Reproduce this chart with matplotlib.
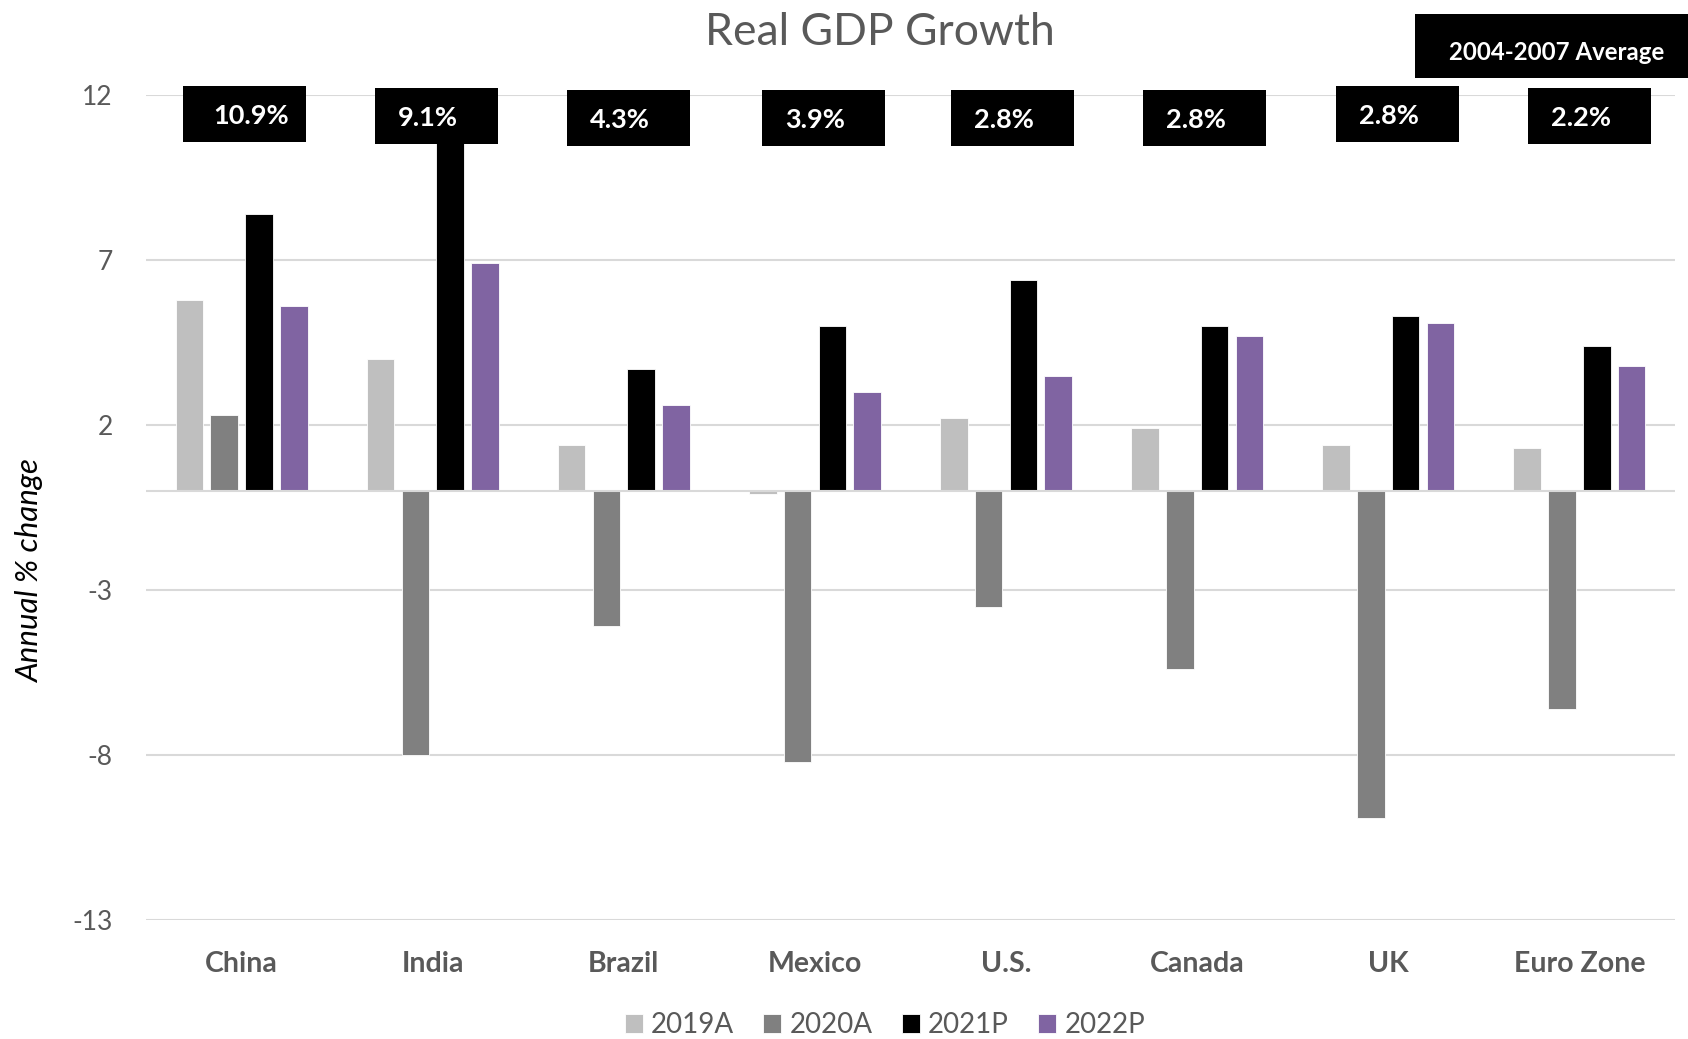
import matplotlib
matplotlib.use("Agg")
import matplotlib.pyplot as plt
import matplotlib.transforms as mtransforms
from matplotlib.patches import Rectangle
import numpy as np

# ---- data ----
countries = ["China", "India", "Brazil", "Mexico", "U.S.", "Canada", "UK", "Euro Zone"]
series_names = ["2019A", "2020A", "2021P", "2022P"]
v2019 = [5.8, 4.0, 1.4, -0.1, 2.2, 1.9, 1.4, 1.3]
v2020 = [2.3, -8.0, -4.1, -8.2, -3.5, -5.4, -9.9, -6.6]
v2021 = [8.4, 12.5, 3.7, 5.0, 6.4, 5.0, 5.3, 4.4]
v2022 = [5.6, 6.9, 2.6, 3.0, 3.5, 4.7, 5.1, 3.8]
avg_labels = ["10.9%", "9.1%", "4.3%", "3.9%", "2.8%", "2.8%", "2.8%", "2.2%"]
yticks = [12, 7, 2, -3, -8, -13]

colors = ["#BFBFBF", "#808080", "#000000", "#8064A2"]
TXT = "#595959"
FONT = "Lato"
plt.rcParams["font.family"] = [FONT, "DejaVu Sans"]

W, H = 1688, 1039
fig = plt.figure(figsize=(W / 100, H / 100), dpi=100)
ax = fig.add_axes([146 / W, 1 - 920 / H, (1675 - 146) / W, (920 - 95) / H])

x = np.arange(len(countries))
pitch = 0.182
bw = 0.144
all_vals = [v2019, v2020, v2021, v2022]
for i, (name, vals, c) in enumerate(zip(series_names, all_vals, colors)):
    ax.bar(x + (i - 1.5) * pitch, vals, width=bw, color=c, label=name, zorder=3,
           edgecolor="white", linewidth=0.6)

ax.set_xlim(-0.5, len(countries) - 0.5)
ax.set_ylim(-13, 12)
ax.set_yticks(yticks)
ax.set_yticklabels([str(t) for t in yticks])
ax.grid(axis="y", color="#D9D9D9", linewidth=1.5, zorder=0)
ax.axhline(0, color="#D9D9D9", linewidth=1.5, zorder=4)
for s in ax.spines.values():
    s.set_visible(False)
ax.set_xticks(x)
ax.set_xticklabels(countries, fontsize=20.5, fontweight="bold", color=TXT)
ax.tick_params(axis="x", length=0, pad=22)
ax.tick_params(axis="y", length=0, pad=24, labelsize=19, labelcolor=TXT)

# ---- average boxes ----
box_dx_px = [3, 3.5, 4.5, 9, 6.5, 7, 9, 10]
box_top_px = [86, 88, 90, 90, 90, 90, 86, 88]
text_pad_px = [30, 23, 23, 23, 23, 23, 23, 23]
box_w_px, box_h_px = 123, 56
slot_px = (1675 - 146) / len(countries)
trans = mtransforms.blended_transform_factory(ax.transData, fig.transFigure)
for i, lab in enumerate(avg_labels):
    cx = x[i] + box_dx_px[i] / slot_px
    bwid = box_w_px / slot_px
    left = cx - bwid / 2
    y0 = 1 - (box_top_px[i] + box_h_px) / H
    rect = Rectangle((left, y0), bwid, box_h_px / H, transform=trans,
                     facecolor="black", edgecolor="none", clip_on=False, zorder=6)
    fig.add_artist(rect)
    tt = mtransforms.offset_copy(trans, fig=fig, x=text_pad_px[i], y=-2, units="dots")
    fig.text(left, 1 - (box_top_px[i] + box_h_px / 2) / H, lab, transform=tt,
             color="white", fontsize=19.5, fontweight="bold", ha="left", va="center",
             zorder=7)

# header box
fig.add_artist(Rectangle((1415 / W, 1 - 78 / H), (1690 - 1415) / W, 64 / H,
                         transform=fig.transFigure, facecolor="black",
                         edgecolor="none", zorder=6))
fig.text(1449 / W, 1 - 53 / H, "2004-2007 Average", color="white", fontsize=17.3,
         fontweight="bold", ha="left", va="center", zorder=7)

# title & y label
fig.text(880 / W, 1 - 45 / H, "Real GDP Growth", fontsize=32, color=TXT,
         ha="center", va="baseline")
fig.text(30 / W, 1 - 571 / H, "Annual % change", fontsize=22.5, style="italic",
         color="black", rotation=90, ha="center", va="center")

# legend
fig.legend(loc="center", bbox_to_anchor=(885 / W, 1 - 1025 / H), ncol=4,
           frameon=False, fontsize=20, labelcolor=TXT, handlelength=0.65,
           handleheight=0.65, handletextpad=0.3, columnspacing=1.05,
           borderpad=0, borderaxespad=0)

fig.savefig("out.png", dpi=100)
